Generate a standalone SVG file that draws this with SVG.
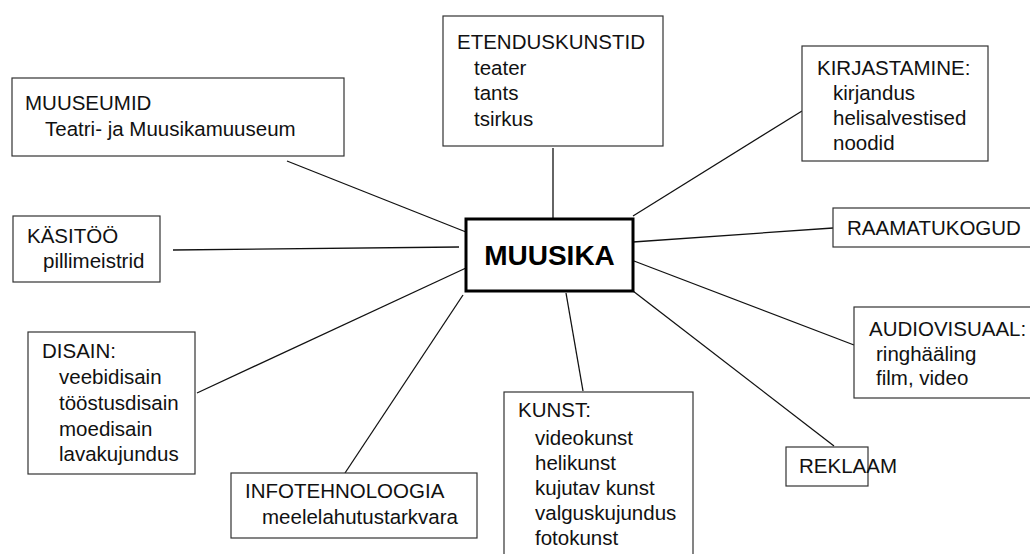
<svg xmlns="http://www.w3.org/2000/svg" width="1030" height="554" viewBox="0 0 1030 554">
<style>
.box{fill:#fff;stroke:#333;stroke-width:1.2}
.main{fill:#fff;stroke:#000;stroke-width:3}
text{font-family:"Liberation Sans",Arial,sans-serif;font-size:20.5px;fill:#111}
.big{font-size:28px;font-weight:bold;fill:#000}
.con line{stroke:#111;stroke-width:1.3}
</style>
<rect width="1030" height="554" fill="#fff"/>
<g class="con" id="connectors">
<line x1="553" y1="148" x2="553" y2="219"/>
<line x1="287" y1="161" x2="466" y2="232"/>
<line x1="173" y1="250" x2="459" y2="247"/>
<line x1="197" y1="393" x2="466" y2="268"/>
<line x1="345" y1="473" x2="463" y2="295"/>
<line x1="566" y1="293" x2="583" y2="391"/>
<line x1="633" y1="291" x2="834" y2="446"/>
<line x1="634" y1="261" x2="854" y2="345"/>
<line x1="633" y1="242" x2="833" y2="228"/>
<line x1="633" y1="216" x2="802" y2="111"/>
</g>
<g id="muusika">
<rect class="main" x="466" y="219" width="167" height="72"/>
<text class="big" x="549.5" y="265" text-anchor="middle">MUUSIKA</text>
</g>
<g id="etenduskunstid">
<rect class="box" x="443" y="16" width="220" height="130"/>
<text x="457" y="49">ETENDUSKUNSTID</text>
<text x="474" y="75">teater</text>
<text x="474" y="100">tants</text>
<text x="474" y="126">tsirkus</text>
</g>
<g id="kirjastamine">
<rect class="box" x="802" y="46" width="186" height="115"/>
<text x="817" y="75">KIRJASTAMINE:</text>
<text x="833" y="100">kirjandus</text>
<text x="833" y="125">helisalvestised</text>
<text x="833" y="150">noodid</text>
</g>
<g id="raamatukogud">
<rect class="box" x="833" y="208" width="210" height="39"/>
<text x="847" y="235">RAAMATUKOGUD</text>
</g>
<g id="audiovisuaal">
<rect class="box" x="854" y="307" width="190" height="91"/>
<text x="869" y="336">AUDIOVISUAAL:</text>
<text x="876" y="361">ringhääling</text>
<text x="876" y="385">film, video</text>
</g>
<g id="reklaam">
<rect class="box" x="786" y="447" width="82" height="39"/>
<text x="799" y="473">REKLAAM</text>
</g>
<g id="kunst">
<rect class="box" x="504" y="392" width="189" height="180"/>
<text x="518" y="417">KUNST:</text>
<text x="535" y="445">videokunst</text>
<text x="535" y="470">helikunst</text>
<text x="535" y="495">kujutav kunst</text>
<text x="535" y="520">valguskujundus</text>
<text x="535" y="545">fotokunst</text>
</g>
<g id="infotehnoloogia">
<rect class="box" x="231" y="473" width="246" height="65"/>
<text x="245" y="498">INFOTEHNOLOOGIA</text>
<text x="262" y="524">meelelahutustarkvara</text>
</g>
<g id="disain">
<rect class="box" x="28" y="332" width="167" height="142"/>
<text x="42" y="358">DISAIN:</text>
<text x="59" y="384">veebidisain</text>
<text x="59" y="410">tööstusdisain</text>
<text x="59" y="436">moedisain</text>
<text x="59" y="461">lavakujundus</text>
</g>
<g id="kasitoo">
<rect class="box" x="13" y="216" width="147" height="66"/>
<text x="27" y="243">KÄSITÖÖ</text>
<text x="43" y="268">pillimeistrid</text>
</g>
<g id="muuseumid">
<rect class="box" x="12" y="78" width="332" height="78"/>
<text x="25" y="110">MUUSEUMID</text>
<text x="45" y="136">Teatri- ja Muusikamuuseum</text>
</g>
</svg>
